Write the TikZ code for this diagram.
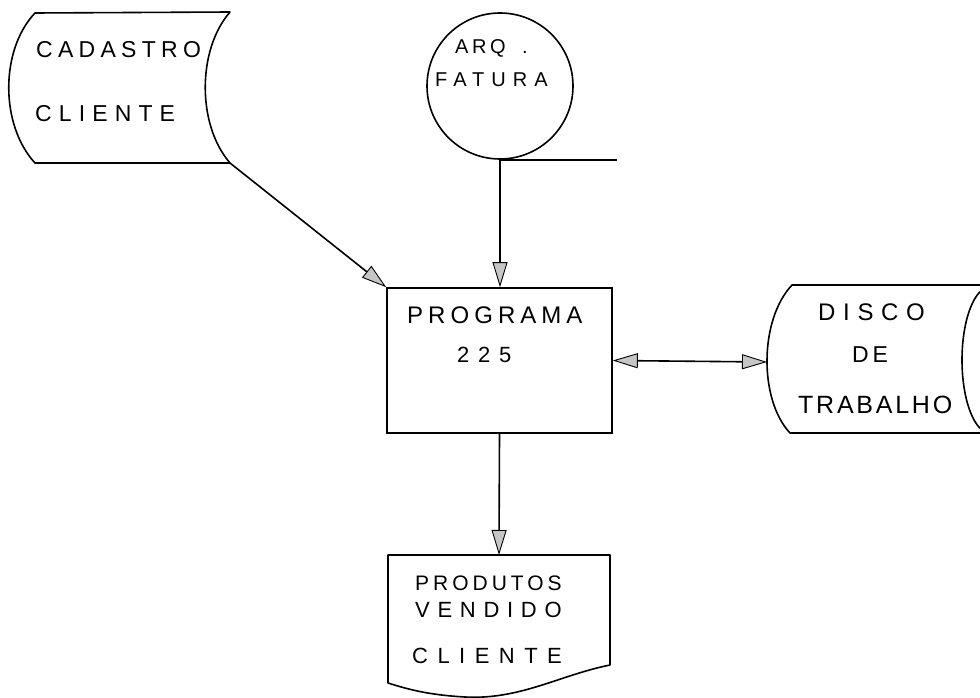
\documentclass[tikz,border=0pt]{standalone}
\usepackage{fontspec}
\setmainfont{Liberation Sans}
\usetikzlibrary{arrows.meta}
\newcommand{\hw}[3]{\fontsize{#1}{#1}\selectfont\addfontfeature{LetterSpace=#2}#3}
\tikzset{
  shape line/.style={draw=black, line width=1.6pt, line join=round},
  conn/.style={draw=black, line width=1.6pt},
  tip/.style={-{Triangle[length=25pt,width=15pt,fill=gray!45,line width=0.9pt]}},
  bitip/.style={{Triangle[length=25pt,width=15pt,fill=gray!45,line width=0.9pt]}-{Triangle[length=25pt,width=15pt,fill=gray!45,line width=0.9pt]}},
  lbl/.style={anchor=base west, inner sep=0pt, text=black}
}
\begin{document}
\begin{tikzpicture}[x=1pt,y=-1pt]
\useasboundingbox (0,0) rectangle (980,698);
\fill[white] (0,0) rectangle (980,698);

% CADASTRO CLIENTE (stored data)
\draw[shape line] (35,13) -- (230,12)
  .. controls (197,50) and (197,125) .. (230,163)
  -- (35,163)
  .. controls (0,125) and (0,50) .. (35,13) -- cycle;
\coordinate (cadBR) at (230,163);
\node[lbl] (cad1) at (36,58) {\hw{23}{23}{CADASTRO}};
\node[lbl] (cad2) at (35,122) {\hw{23}{31}{CLIENTE}};

% ARQ. FATURA (tape)
\node[circle, draw=black, line width=1.6pt, minimum size=146pt, inner sep=0pt] (arq) at (500,86) {};
\coordinate (tapeEnd) at (617,159);
\draw[conn] (arq.south) -- (tapeEnd |- arq.south);
\node[lbl] (arq1) at (455,54) {\hw{20}{18}{ARQ}};
\node[lbl] (arqdot) at (522,54) {\hw{20}{0}{.}};
\node[lbl] (arq2) at (435,87) {\hw{20}{35}{FATURA}};

% PROGRAMA 225
\node[draw=black, line width=1.6pt, minimum width=225pt, minimum height=145pt, inner sep=0pt] (prog) at (499.5,360.5) {};
\node[lbl] (prog1) at (407,323) {\hw{24}{21}{PROGRAMA}};
\node[lbl] (prog2) at (457,362) {\hw{22}{40}{225}};

% DISCO DE TRABALHO (drum)
\begin{scope}
\clip (0,0) rectangle (980,698);
\draw[shape line] (1000,285) -- (792,285)
  .. controls (759,320) and (759,400) .. (790,433) -- (1000,433);
\draw[shape line] (990,360) ellipse [x radius=28, y radius=73];
\end{scope}
\coordinate (discoL) at (767,362);
\node[lbl] (d1) at (818,320) {\hw{24}{32}{DISCO}};
\node[lbl] (d2) at (852,362) {\hw{23}{17}{DE}};
\node[lbl] (d3) at (798,413) {\hw{25}{11}{TRABALHO}};

% PRODUTOS VENDIDO CLIENTE (document)
\draw[shape line] (388,555) -- (610,555) -- (610,665)
  .. controls (560,675) and (520,700) .. (465,697)
  .. controls (430,695) and (410,690) .. (388,683) -- cycle;
\coordinate (docTop) at (499,555);
\node[lbl] (p1) at (415,590) {\hw{21}{19}{PRODUTOS}};
\node[lbl] (p2) at (415,617) {\hw{22}{35}{VENDIDO}};
\node[lbl] (p3) at (412,663) {\hw{22}{43}{CLIENTE}};

% connectors
\draw[conn, tip] (cadBR) -- (prog.north west);
\draw[conn, tip] (arq.south) -- (prog.north -| arq.south);
\draw[conn, bitip] (prog.east) -- (discoL);
\draw[conn, tip] (prog.south) -- (docTop);
\end{tikzpicture}
\end{document}
